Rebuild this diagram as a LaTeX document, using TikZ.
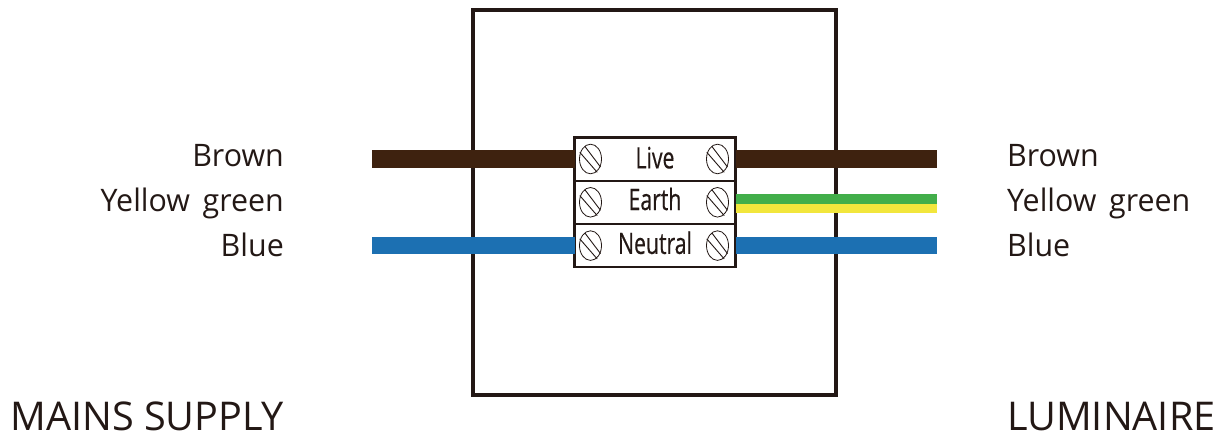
\documentclass[tikz,border=0pt]{standalone}
\usepackage{fontspec}
\setmainfont{Open Sans}
\newfontfamily\termfont[FakeStretch=0.72,FakeBold=0.4]{Open Sans}
\newfontfamily\labfont[FakeStretch=0.98,WordSpace=1.6]{Open Sans}
\usetikzlibrary{positioning}
\definecolor{boxblack}{RGB}{35,24,21}
\definecolor{wirebrown}{RGB}{62,34,15}
\definecolor{wiregreen}{RGB}{66,174,74}
\definecolor{wireyellow}{RGB}{242,230,60}
\definecolor{wireblue}{RGB}{28,112,178}
\tikzset{
	term/.style={draw=boxblack,fill=white,line width=2.3pt,minimum width=161pt,minimum height=43.3pt,inner sep=0pt,outer sep=0pt,
		font=\termfont\fontsize{29.5}{30}\selectfont,text=boxblack,text height=#1,text depth=4.6pt},
	lab/.style={font=\labfont\fontsize{31}{31}\selectfont,text=boxblack,inner sep=0pt},
	bigl/.style={font=\fontsize{39.6}{40}\selectfont,text=boxblack,inner sep=0pt},
	wire/.style={line width=#1},
	screw/.pic={
		\draw[boxblack,line width=0.8pt] (0,0) ellipse (11pt and 14.8pt);
		\draw[boxblack,line width=0.9pt] (-5.7pt,12.7pt) -- (10pt,-8pt);
		\draw[boxblack,line width=0.9pt] (-10.7pt,6.7pt) -- (6.7pt,-13.3pt);
	}
}
\begin{document}
\begin{tikzpicture}[x=1pt,y=-1pt]
	\useasboundingbox (0,0) rectangle (1223,436);
	\node[draw=boxblack,line width=4pt,minimum width=363pt,minimum height=385pt,inner sep=0pt] (box) at (654.75,202.5) {};
	
	\node[term=23.4pt] (live) at (655,159) {Live};
	\node[term=20pt,below=0pt of live] (earth) {Earth};
	\node[term=21.2pt,below=0pt of earth] (neutral) {Neutral};
	
	% wire ends
	\coordinate (brownL) at (372,159.3);
	\coordinate (blueL) at (372,245.8);
	\coordinate (brownR) at (937,159.3);
	\coordinate (greenR) at (937,199);
	\coordinate (yellowR) at (937,208.3);
	\coordinate (blueR) at (937,245.6);
	
	\draw[wire=18pt,wirebrown] (brownL) -- (brownL -| live.west);
	\draw[wire=17pt,wireblue] (blueL) -- (blueL -| neutral.west);
	\draw[wire=18pt,wirebrown] (brownR -| live.east) -- (brownR);
	\draw[wire=10pt,wiregreen] (greenR -| earth.east) -- (greenR);
	\draw[wire=9pt,wireyellow] (yellowR -| earth.east) -- (yellowR);
	\draw[wire=17pt,wireblue] (blueR -| neutral.east) -- (blueR);
	
	\foreach \t in {live,earth,neutral}{
		\pic at ([xshift=16pt]\t.west) {screw};
		\pic at ([xshift=-18pt]\t.east) {screw};
	}
	
	\node[lab,anchor=base east] (brownA) at (284,166.5) {Brown};
	\node[lab,anchor=base east] (yellowA) at (284,211.3) {Yellow green};
	\node[lab,anchor=base east] (blueA) at (284,256.8) {Blue};
	\node[lab,anchor=base west] (brownB) at (1007,166.5) {Brown};
	\node[lab,anchor=base west] (yellowB) at (1007,211.3) {Yellow green};
	\node[lab,anchor=base west] (blueB) at (1007,256.8) {Blue};
	\node[bigl,anchor=base east] (mains) at (284,430) {MAINS SUPPLY};
	\node[bigl,anchor=base west] (lum) at (1007,430) {LUMINAIRE};
\end{tikzpicture}
\end{document}
